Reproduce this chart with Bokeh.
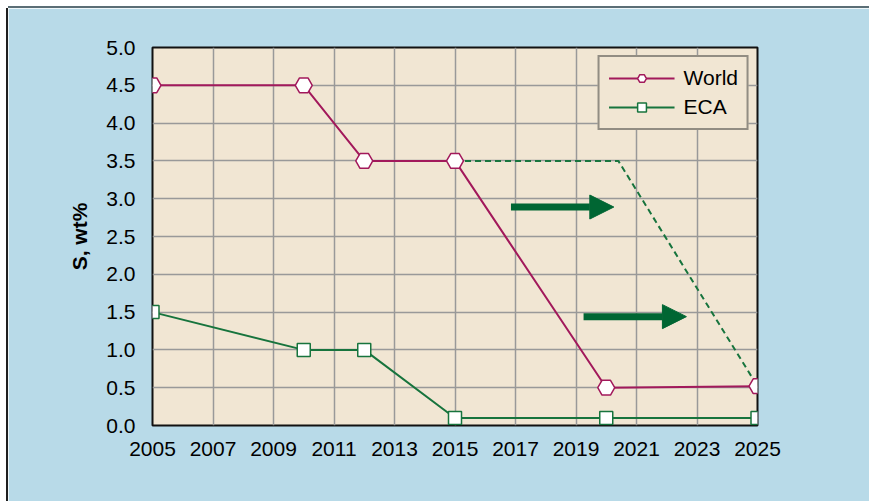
from bokeh.plotting import figure
from bokeh.models import Arrow, NormalHead, FixedTicker, NumeralTickFormatter, Legend
from bokeh.embed import file_html
from bokeh.resources import INLINE

# ---- data ----
world_years = [2005, 2010, 2012, 2015, 2020, 2025]
world_s = [4.5, 4.5, 3.5, 3.5, 0.5, 0.52]
eca_years = [2005, 2010, 2012, 2015, 2020, 2025]
eca_s = [1.5, 1.0, 1.0, 0.1, 0.1, 0.1]
delay_years = [2015, 2020.4, 2025]
delay_s = [3.5, 3.5, 0.52]
arrow_x_start = [2016.85, 2019.25]
arrow_x_end = [2020.25, 2022.65]
arrow_y = [2.89, 1.44]
x_ticks = list(range(2005, 2026, 2))
y_ticks = [i * 0.5 for i in range(11)]

WORLD_C = "#a2195b"
ECA_C = "#17743d"
ARROW_C = "#006633"
FONT = "Liberation Sans"

p = figure(width=861, height=493, output_backend="svg", toolbar_location=None,
           x_range=(2005, 2025), y_range=(0, 5),
           min_border_left=144, min_border_right=112, min_border_top=39, min_border_bottom=76)
p.styles = {"margin-left": "8px", "margin-top": "8px",
            "box-shadow": "0 -2px 0 #5b6e76, -2px 0 0 #1f1f1f"}

p.background_fill_color = "#f1e6d3"
p.border_fill_color = "#b8dae8"
p.outline_line_color = "#111111"
p.outline_line_width = 2

for g in (p.xgrid, p.ygrid):
    g.grid_line_color = "#999999"
    g.grid_line_width = 1.5
p.xgrid.ticker = FixedTicker(ticks=x_ticks)
p.ygrid.ticker = FixedTicker(ticks=y_ticks)

p.xaxis.ticker = FixedTicker(ticks=x_ticks)
p.yaxis.ticker = FixedTicker(ticks=y_ticks)
p.yaxis.formatter = NumeralTickFormatter(format="0.0")
for ax in (p.xaxis, p.yaxis):
    ax.axis_line_color = None
    ax.major_tick_line_color = None
    ax.minor_tick_line_color = None
    ax.major_label_text_font = FONT
    ax.major_label_text_font_size = "21px"
    ax.major_label_text_color = "black"
p.xaxis.major_label_standoff = 10
p.yaxis.major_label_standoff = 11
p.yaxis.axis_label = "S, wt%"
p.yaxis.axis_label_text_font = FONT
p.yaxis.axis_label_text_font_size = "21px"
p.yaxis.axis_label_text_font_style = "bold"
p.yaxis.axis_label_text_color = "black"
p.yaxis.axis_label_standoff = 12

# dashed delayed line
p.line(delay_years, delay_s, line_color=ECA_C, line_width=2, line_dash="6 4")

# arrows
for xs, xe, y in zip(arrow_x_start, arrow_x_end, arrow_y):
    p.add_layout(Arrow(x_start=xs, y_start=y, x_end=xe, y_end=y,
                       line_color=ARROW_C, line_width=7,
                       end=NormalHead(size=24, fill_color=ARROW_C, line_color=ARROW_C, line_width=1)))

r1 = p.line(eca_years, eca_s, line_color=ECA_C, line_width=2)
r2 = p.scatter(eca_years, eca_s, marker="square", size=13, fill_color="white",
               line_color=ECA_C, line_width=1.5)
r3 = p.line(world_years, world_s, line_color=WORLD_C, line_width=2)
r4 = p.scatter(world_years, world_s, marker="hex", size=17, fill_color="white",
               line_color=WORLD_C, line_width=1.5)

legend = Legend(items=[("World", [r3, r4]), ("ECA", [r1, r2])],
                location="top_right")
legend.margin = 8
legend.padding = 9
legend.spacing = 5
legend.glyph_width = 66
legend.glyph_height = 22
legend.label_height = 22
legend.label_standoff = 9
legend.label_text_font = FONT
legend.label_text_font_size = "21px"
legend.label_text_color = "black"
legend.background_fill_color = "#f1e6d3"
legend.background_fill_alpha = 1
legend.border_line_color = "#333333"
legend.border_line_width = 2
p.add_layout(legend, "center")

open("out.html", "w").write(file_html(p, INLINE))
